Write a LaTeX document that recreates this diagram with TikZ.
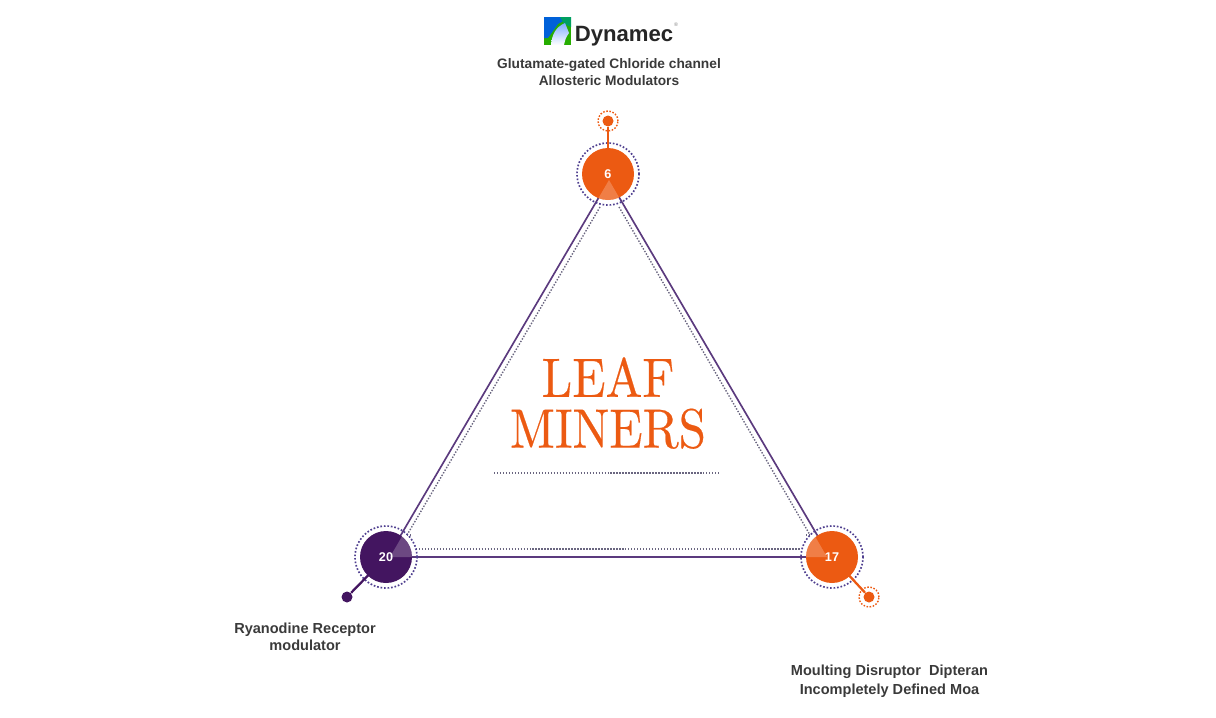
\documentclass[tikz,border=0pt]{standalone}
\usepackage{fontspec}
\newfontfamily\labelfont{Liberation Sans}
\newfontfamily\titlefont[Extension=.otf, FakeBold=0.35, FakeStretch=0.885]{lmroman10-regular}
\usepackage{tikz}
\usetikzlibrary{positioning}
\definecolor{dynorange}{HTML}{EC5A12}
\definecolor{dynpurple}{HTML}{431560}
\definecolor{edgepurple}{HTML}{5B3A7E}
\definecolor{halopurple}{HTML}{4F3F8F}
\definecolor{dotgray}{HTML}{6A6680}
\definecolor{labelgray}{HTML}{3A3A3A}
\tikzset{
  hub/.style = {circle, minimum size=52*0.02cm, inner sep=0pt, text=white, font=\labelfont\bfseries\fontsize{7.2}{8}\selectfont,
    path picture={\fill[white, opacity=0.22] (apexT) -- (wedgeL) -- (wedgeR) -- cycle;}},
  halo/.style = {draw=halopurple, circle, minimum size=62*0.02cm, inner sep=0pt, line width=0.95pt, dash pattern=on 0.95pt off 1.05pt},
  pindot/.style = {circle, minimum size=11*0.02cm, inner sep=0pt},
  pinhalo/.style = {circle, draw=dynorange, minimum size=20*0.02cm, inner sep=0pt, line width=0.8pt, dash pattern=on 0.9pt off 0.9pt},
  edge/.style = {draw=edgepurple, line width=0.95pt},
  dotedge/.style = {draw=dotgray, line width=0.8pt, dash pattern=on 0.8pt off 0.9pt},
  tag/.style = {align=center, text=labelgray, font=\labelfont\bfseries\fontsize{7.82}{9.7}\selectfont},
  bigtag/.style = {align=center, text=labelgray, font=\labelfont\bfseries\fontsize{8.28}{#1}\selectfont}
}

\begin{document}
\begin{tikzpicture}[x=0.02cm, y=-0.02cm]
    \useasboundingbox (0,0) rectangle (1216,717);

    % Corners of the two triangles
    \coordinate (apexT) at (609,180);
    \coordinate (apexL) at (388,557);
    \coordinate (apexR) at (830,557);
    \coordinate (wedgeL) at (390,557);
    \coordinate (wedgeR) at (827,557);
    \coordinate (dotTL) at (600,207);
    \coordinate (dotTR) at (619,207);
    \coordinate (dotLT) at (407,535);
    \coordinate (dotLR) at (416,549);
    \coordinate (dotRL) at (800,549);
    \coordinate (dotRT) at (810,535);

    % Triangle lines, under the hubs
    \draw [edge] (apexT) -- (apexL) -- (apexR) -- cycle;
    \draw [dotedge] (dotTL) -- (dotLT);
    \draw [dotedge] (dotTR) -- (dotRT);
    \draw [dotedge] (dotLR) -- (dotRL);
    \draw [dotedge] (dotLT) -- +(4,0);
    \draw [dotedge] (dotRT) -- +(-4,0);

    % Pins
    \node [pindot, fill=dynorange] (pinSix) at (608,121) {};
    \node [pinhalo] (pinSixHalo) at (pinSix) {};
    \node [pindot, fill=dynpurple] (pinTwenty) at (347,597) {};
    \node [pindot, fill=dynorange] (pinSeventeen) at (869,597) {};
    \node [pinhalo] (pinSeventeenHalo) at (pinSeventeen) {};

    % Place the hubs
    \node [halo] (haloSix) at (608,174) {};
    \node [halo] (haloTwenty) at (386,557) {};
    \node [halo] (haloSeventeen) at (832,557) {};
    \draw [dynorange, line width=1.3pt] (pinSix) -- (haloSix.center);
    \draw [dynpurple, line width=1.3pt] (pinTwenty) -- (haloTwenty.center);
    \draw [dynorange, line width=1.3pt] (pinSeventeen) -- (haloSeventeen.center);
    \node [hub, fill=dynorange] (six) at (haloSix) {6};
    \node [hub, fill=dynpurple] (twenty) at (haloTwenty) {20};
    \node [hub, fill=dynorange] (seventeen) at (haloSeventeen) {17};

    % Title and the rule under it
    \node [text=dynorange, align=center, font=\titlefont\fontsize{31.5}{28.9}\selectfont] (title) at (608,403) {LEAF\\MINERS};
    \coordinate (ruleL) at (494,473);
    \coordinate (ruleR) at (719,473);
    \draw [dotedge] (ruleL) -- (ruleR);

    % Labels
    \node [tag] (labelSix) at (609,72) {Glutamate-gated Chloride channel\\Allosteric Modulators};
    \node [bigtag=9.7] (labelTwenty) at (305,637) {Ryanodine Receptor\\modulator};
    \node [bigtag=10.8] (labelSeventeen) at (889.5,681) {Moulting Disruptor\ \ Dipteran\\Incompletely Defined Moa};

    % Logo
    \begin{scope}
      \clip (544,17) rectangle (571,45);
      \fill [green!60!black!80!lime] (544,17) rectangle (571,45);
      \fill [blue!55!cyan!85!black] (544,17) -- (571,17) -- (558,24) -- (548,38) -- (544,38) -- cycle;
      \fill [teal!75!green] (560,17) -- (571,17) -- (571,27) -- (564,24) -- cycle;
      \shade [top color=cyan!35!blue!50!white, bottom color=white] (551,45) .. controls (552,34) and (556,27) .. (565,23) -- (569,33) .. controls (566,37) and (565,40) .. (564,45) -- cycle;
    \end{scope}
    \node [anchor=base west, inner sep=0pt, text=black!85, font=\labelfont\bfseries\fontsize{12.6}{14}\selectfont] (logo) at (574.5,41) {Dynamec};
    \node [anchor=center, inner sep=0pt, text=gray, font=\labelfont\fontsize{3}{3}\selectfont] (logoMark) at (676,25) {®};
\end{tikzpicture}
\end{document}
